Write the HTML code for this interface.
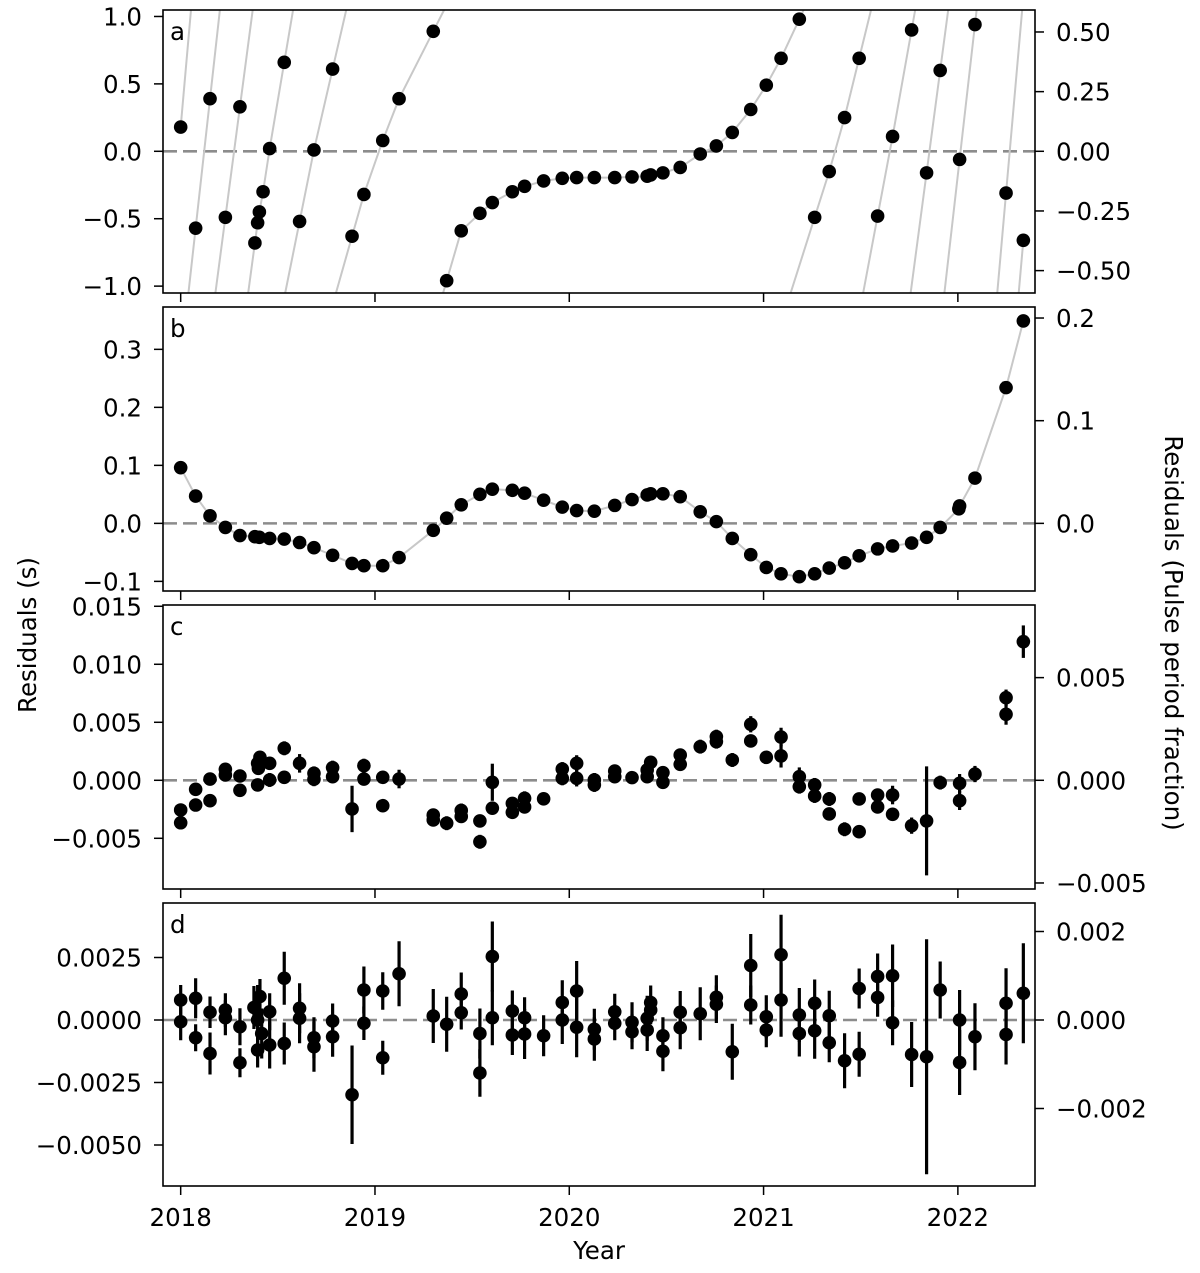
<!DOCTYPE html>
<html><head><meta charset="utf-8"><style>
html,body{margin:0;padding:0;background:#fff;}
svg text{font-family:"DejaVu Sans","Liberation Sans",sans-serif;fill:#000;}
</style></head><body>
<svg id="chart" xmlns="http://www.w3.org/2000/svg" width="1200" height="1268" viewBox="0 0 1200 1268"></svg>
<script>
// ---- data ----
const xTickYears = [2018, 2019, 2020, 2021, 2022];
const xTickLabels = ["2018", "2019", "2020", "2021", "2022"];

// panel a: phase-wrapped residuals
const aYears = [2018.000, 2018.077, 2018.151, 2018.230, 2018.305, 2018.382, 2018.396, 2018.405, 2018.424, 2018.458, 2018.533,
  2018.612, 2018.686, 2018.782, 2018.882, 2018.943, 2019.040, 2019.124, 2019.300,
  2019.369, 2019.444, 2019.540, 2019.604, 2019.707, 2019.770, 2019.868, 2019.964, 2020.038, 2020.129, 2020.234, 2020.323, 2020.401, 2020.419, 2020.482, 2020.571, 2020.674, 2020.757, 2020.839, 2020.934, 2021.014, 2021.090, 2021.184,
  2021.263, 2021.338, 2021.417, 2021.492, 2021.587, 2021.664, 2021.762, 2021.839, 2021.909, 2022.009, 2022.088, 2022.248, 2022.337];
const aResid = [0.18, -0.57, 0.39, -0.49, 0.33, -0.68, -0.53, -0.45, -0.30, 0.02, 0.66,
  -0.52, 0.01, 0.61, -0.63, -0.32, 0.08, 0.39, 0.89,
  -0.96, -0.59, -0.46, -0.38, -0.30, -0.26, -0.22, -0.20, -0.195, -0.195, -0.195, -0.19, -0.185, -0.175, -0.16, -0.12, -0.02, 0.04, 0.14, 0.31, 0.49, 0.69, 0.98,
  -0.49, -0.15, 0.25, 0.69, -0.48, 0.11, 0.90, -0.16, 0.60, -0.06, 0.94, -0.31, -0.66];
const aSegment = [0, 1, 1, 2, 2, 3, 3, 3, 3, 3, 3, 4, 4, 4, 5, 5, 5, 5, 5,
  6, 6, 6, 6, 6, 6, 6, 6, 6, 6, 6, 6, 6, 6, 6, 6, 6, 6, 6, 6, 6, 6, 6,
  7, 7, 7, 7, 8, 8, 8, 9, 9, 10, 10, 11, 12];

// panel b
const bYears = [2018.000, 2018.077, 2018.151, 2018.230, 2018.305, 2018.382, 2018.405, 2018.458, 2018.533, 2018.612, 2018.686, 2018.782, 2018.882, 2018.943, 2019.040, 2019.124,
  2019.300, 2019.369, 2019.444, 2019.540, 2019.604, 2019.707, 2019.770, 2019.868, 2019.964, 2020.038, 2020.129, 2020.234, 2020.323, 2020.401, 2020.419, 2020.482, 2020.571,
  2020.674, 2020.757, 2020.839, 2020.934, 2021.014, 2021.090, 2021.184, 2021.263, 2021.338, 2021.417, 2021.492, 2021.587, 2021.664, 2021.762, 2021.839, 2021.909, 2022.005, 2022.009, 2022.088, 2022.248, 2022.337];
const bResid = [0.096, 0.047, 0.013, -0.007, -0.021, -0.023, -0.024, -0.026, -0.027, -0.033, -0.042, -0.055, -0.069, -0.073, -0.073, -0.059,
  -0.012, 0.009, 0.032, 0.050, 0.059, 0.057, 0.052, 0.040, 0.028, 0.022, 0.021, 0.031, 0.041, 0.049, 0.051, 0.051, 0.046,
  0.020, 0.003, -0.026, -0.054, -0.076, -0.087, -0.092, -0.087, -0.077, -0.068, -0.056, -0.044, -0.039, -0.034, -0.024, -0.007, 0.025, 0.030, 0.078, 0.234, 0.349];

// panel c
const cYears = [2018.000, 2018.000, 2018.077, 2018.077, 2018.151, 2018.151, 2018.230, 2018.230, 2018.305, 2018.305, 2018.396, 2018.408, 2018.400, 2018.396, 2018.458, 2018.458, 2018.533, 2018.533,
  2018.612, 2018.686, 2018.686, 2018.782, 2018.782, 2018.882, 2018.943, 2018.943, 2019.040, 2019.040, 2019.124, 2019.300, 2019.300, 2019.369, 2019.444, 2019.444, 2019.540, 2019.540,
  2019.604, 2019.604, 2019.707, 2019.707, 2019.770, 2019.770, 2019.868, 2019.964, 2019.964, 2020.038, 2020.038, 2020.129, 2020.129, 2020.234, 2020.234, 2020.323, 2020.401, 2020.419, 2020.401,
  2020.482, 2020.482, 2020.571, 2020.571, 2020.674, 2020.757, 2020.757, 2020.839, 2020.934, 2020.934, 2021.014, 2021.090, 2021.090, 2021.184, 2021.184, 2021.263, 2021.263, 2021.338, 2021.338,
  2021.417, 2021.492, 2021.492, 2021.587, 2021.587, 2021.664, 2021.664, 2021.762, 2021.839, 2021.909, 2022.009, 2022.009, 2022.088, 2022.248, 2022.248, 2022.337];
const cResid = [-0.00256, -0.00366, -0.00078, -0.00213, 0.00011, -0.00176, 0.00095, 0.00046, 0.00037, -0.00086, 0.00146, 0.00198, 0.00103, -0.0004, 0.00003, 0.00146, 0.00276, 0.00026,
  0.00146, 0.0006, 0.00009, 0.00109, 0.00031, -0.00247, 0.00126, 0.00011, 0.00026, -0.00219, 0.00011, -0.003, -0.00342, -0.0037, -0.0026, -0.00312, -0.0035, -0.0053,
  -0.00017, -0.0024, -0.00199, -0.00276, -0.00155, -0.0023, -0.0016, 0.00097, 0.00017, 0.00146, 0.00017, 0.00003, -0.0004, 0.0008, 0.00031, 0.00023, 0.00089, 0.00155, 0.00031,
  0.00066, -0.00017, 0.00218, 0.00138, 0.0029, 0.00376, 0.00333, 0.00175, 0.00483, 0.00339, 0.00198, 0.00373, 0.0021, 0.00031, -0.00055, -0.0004, -0.00135, -0.00161, -0.0029,
  -0.00422, -0.00161, -0.00443, -0.00127, -0.0023, -0.00127, -0.00293, -0.00391, -0.0035, -0.0002, -0.00026, -0.00176, 0.00054, 0.00712, 0.00569, 0.01195];
const cErr = [0.0005, 0.0005, 0.0004, 0.0004, 0.0004, 0.0005, 0.0005, 0.0005, 0.0005, 0.0004, 0.0005, 0.0005, 0.0005, 0.0005, 0.0006, 0.0005, 0.0006, 0.0005,
  0.0008, 0.0006, 0.0006, 0.0006, 0.0005, 0.0020, 0.0006, 0.0004, 0.0005, 0.0004, 0.0008, 0.0005, 0.0005, 0.0006, 0.0006, 0.0004, 0.0005, 0.0006,
  0.0016, 0.0005, 0.0005, 0.0005, 0.0006, 0.0005, 0.0005, 0.0006, 0.0006, 0.0007, 0.0007, 0.0006, 0.0006, 0.0005, 0.0005, 0.0004, 0.0005, 0.0004, 0.0005,
  0.0005, 0.0005, 0.0005, 0.0005, 0.0006, 0.0006, 0.0006, 0.0006, 0.0007, 0.0005, 0.0005, 0.0008, 0.0010, 0.0008, 0.0006, 0.0006, 0.0006, 0.0006, 0.0004,
  0.0006, 0.0004, 0.0004, 0.0005, 0.0005, 0.0008, 0.0004, 0.0007, 0.0047, 0.0006, 0.0008, 0.0008, 0.0007, 0.0007, 0.0009, 0.0014];

// panel d
const dYears = [2018.000, 2018.000, 2018.077, 2018.077, 2018.151, 2018.151, 2018.230, 2018.230, 2018.305, 2018.305, 2018.377, 2018.396, 2018.408, 2018.396, 2018.417, 2018.458, 2018.458,
  2018.533, 2018.533, 2018.612, 2018.612, 2018.686, 2018.686, 2018.782, 2018.782, 2018.882, 2018.943, 2018.943, 2019.040, 2019.040, 2019.124,
  2019.300, 2019.369, 2019.444, 2019.444, 2019.540, 2019.540, 2019.604, 2019.604, 2019.707, 2019.707, 2019.770, 2019.770, 2019.868, 2019.964, 2019.964, 2020.038, 2020.038, 2020.129, 2020.129,
  2020.234, 2020.234, 2020.323, 2020.323, 2020.401, 2020.401, 2020.419, 2020.419, 2020.482, 2020.482, 2020.571, 2020.571, 2020.674, 2020.757, 2020.757, 2020.839, 2020.934, 2020.934,
  2021.014, 2021.014, 2021.090, 2021.090, 2021.184, 2021.184, 2021.263, 2021.263, 2021.338, 2021.338, 2021.417, 2021.492, 2021.492, 2021.587, 2021.587, 2021.664, 2021.664,
  2021.762, 2021.839, 2021.909, 2022.009, 2022.009, 2022.088, 2022.248, 2022.248, 2022.337];
const dResid = [0.0008, -0.00007, 0.00087, -0.00071, 0.00031, -0.00134, 0.0004, 0.00009, -0.00027, -0.00171, 0.0005, 0.0, 0.00094, -0.0012, -0.00054, 0.00033, -0.001,
  0.00167, -0.00094, 0.00047, 0.00007, -0.00071, -0.00107, -0.00004, -0.00067, -0.00299, 0.0012, -0.00013, 0.00116, -0.00151, 0.00185,
  0.00016, -0.00017, 0.00104, 0.00029, -0.00054, -0.00212, 0.00254, 0.00009, 0.00036, -0.0006, 0.00009, -0.00056, -0.00063, 0.0007, 0.0, 0.00116, -0.00029, -0.00037, -0.00076,
  0.00033, -0.00013, -0.00009, -0.00047, 0.00007, -0.0004, 0.0007, 0.0004, -0.00063, -0.00125, 0.00031, -0.00031, 0.00025, 0.00091, 0.00063, -0.00127, 0.00218, 0.0006,
  0.00013, -0.0004, 0.00261, 0.0008, 0.0002, -0.00054, 0.00067, -0.00043, 0.00017, -0.00091, -0.00163, 0.00126, -0.00137, 0.00174, 0.0009, 0.00177, -0.00011,
  -0.00138, -0.00147, 0.0012, 0.0, -0.0017, -0.00067, 0.00067, -0.00058, 0.00107];
const dErr = [0.0006, 0.00074, 0.0008, 0.00054, 0.00063, 0.00084, 0.00067, 0.0007, 0.00074, 0.00058, 0.00086, 0.0014, 0.0007, 0.0007, 0.001, 0.00074, 0.00094,
  0.00106, 0.00084, 0.001, 0.001, 0.00082, 0.001, 0.0007, 0.0008, 0.00197, 0.00094, 0.00067, 0.00075, 0.00068, 0.0013,
  0.00108, 0.0011, 0.00086, 0.00067, 0.001, 0.00095, 0.0014, 0.0011, 0.00082, 0.0008, 0.00082, 0.001, 0.00082, 0.00089, 0.00096, 0.0012, 0.0012, 0.00082, 0.00087,
  0.00072, 0.00068, 0.0008, 0.0007, 0.0009, 0.00084, 0.00068, 0.00057, 0.00074, 0.0008, 0.00085, 0.00086, 0.00106, 0.00088, 0.00075, 0.00112, 0.00126, 0.00078,
  0.00086, 0.00069, 0.0016, 0.00147, 0.00108, 0.00092, 0.00095, 0.00112, 0.001, 0.00078, 0.0011, 0.0008, 0.0009, 0.00092, 0.00077, 0.00125, 0.0009,
  0.0013, 0.0047, 0.00114, 0.0012, 0.0013, 0.00134, 0.0014, 0.0012, 0.002];

// axis ticks
const aLeftTicks = [-1.0, -0.5, 0.0, 0.5, 1.0];
const aLeftLabels = ["\u22121.0", "\u22120.5", "0.0", "0.5", "1.0"];
const aRightTicks = [-0.50, -0.25, 0.0, 0.25, 0.50];
const aRightLabels = ["\u22120.50", "\u22120.25", "0.00", "0.25", "0.50"];
const bLeftTicks = [-0.1, 0.0, 0.1, 0.2, 0.3];
const bLeftLabels = ["\u22120.1", "0.0", "0.1", "0.2", "0.3"];
const bRightTicks = [0.0, 0.1, 0.2];
const bRightLabels = ["0.0", "0.1", "0.2"];
const cLeftTicks = [-0.005, 0.0, 0.005, 0.010, 0.015];
const cLeftLabels = ["\u22120.005", "0.000", "0.005", "0.010", "0.015"];
const cRightTicks = [-0.005, 0.0, 0.005];
const cRightLabels = ["\u22120.005", "0.000", "0.005"];
const dLeftTicks = [-0.005, -0.0025, 0.0, 0.0025];
const dLeftLabels = ["\u22120.0050", "\u22120.0025", "0.0000", "0.0025"];
const dRightTicks = [-0.002, 0.0, 0.002];
const dRightLabels = ["\u22120.002", "0.000", "0.002"];

const PERIOD = 1.77;

// ---- rendering ----
const NS = "http://www.w3.org/2000/svg";
const svg = document.getElementById('chart');
const X0 = 163, X1 = 1035;
const xMin = 2017.909, xMax = 2022.397;
const FS = 24.5;
function xScale(yr) { return X0 + (yr - xMin) / (xMax - xMin) * (X1 - X0); }
function mk(tag, parent, attrs) {
  const e = document.createElementNS(NS, tag);
  for (const k in attrs) e.setAttribute(k, attrs[k]);
  parent.appendChild(e);
  return e;
}

function makePanel(id, top, bottom, yMin, yMax, leftTicks, leftLabels, rightTicks, rightLabels, letter) {
  const g = mk('g', svg, {});
  
  
  const y = v => top + (yMax - v) / (yMax - yMin) * (bottom - top);
  const clipId = 'clip-' + id;
  const cp = mk('clipPath', g, {id: clipId});
  mk('rect', cp, {x: X0, y: top, width: X1 - X0, height: bottom - top});
  const plot = mk('g', g, {'clip-path': 'url(#' + clipId + ')'});
  const zl = mk('line', plot, {x1: X0, x2: X1, y1: y(0), y2: y(0), stroke: '#8c8c8c', 'stroke-width': 2.6, 'stroke-dasharray': '14,6'});
  
  
  const fr = mk('rect', g, {x: X0, y: top, width: X1 - X0, height: bottom - top, fill: 'none', stroke: '#000', 'stroke-width': 1.6});
  
  
  xTickYears.forEach((yr, i) => {
    const t = mk('line', g, {x1: xScale(yr), x2: xScale(yr), y1: bottom, y2: bottom + 9, stroke: '#000', 'stroke-width': 1.5});
    
    
  });
  leftTicks.forEach((v, i) => {
    mk('line', g, {x1: X0 - 9, x2: X0, y1: y(v), y2: y(v), stroke: '#000', 'stroke-width': 1.5});
    const tx = mk('text', g, {x: X0 - 21, y: y(v) + 9, 'text-anchor': 'end', 'font-size': FS});
    tx.textContent = leftLabels[i];
    
    
  });
  rightTicks.forEach((v, i) => {
    const yy = y(v * PERIOD);
    mk('line', g, {x1: X1, x2: X1 + 9, y1: yy, y2: yy, stroke: '#000', 'stroke-width': 1.5});
    const tx = mk('text', g, {x: X1 + 21, y: yy + 9, 'text-anchor': 'start', 'font-size': FS});
    tx.textContent = rightLabels[i];
    
    
  });
  const lt = mk('text', g, {x: 170, y: top + 30, 'font-size': FS});
  lt.textContent = letter;
  
  
  return {plot, y, top, bottom};
}

function dot(parent, cx, cy, name) {
  const c = mk('circle', parent, {cx: cx, cy: cy, r: 6.8, fill: '#000'});
  
  
}

// Panel a
const pa = makePanel('a', 10, 293, -1.051, 1.048, aLeftTicks, aLeftLabels, aRightTicks, aRightLabels, 'a');
(function () {
  const nSeg = Math.max(...aSegment) + 1;
  for (let s = 0; s < nSeg; s++) {
    const pts = [];
    aYears.forEach((yr, i) => { if (aSegment[i] === s) pts.push([xScale(yr), pa.y(aResid[i])]); });
    const line = pts.slice();
    const defSlope = 0.088;
    if (s > 0) {
      let sl = defSlope;
      if (pts.length > 1) sl = (pts[1][0] - pts[0][0]) / (pts[0][1] - pts[1][1]);
      line.unshift([pts[0][0] - sl * (pa.bottom - pts[0][1]), pa.bottom]);
    }
    if (s < nSeg - 1) {
      let sl = defSlope;
      const n = pts.length;
      if (n > 1) sl = (pts[n - 1][0] - pts[n - 2][0]) / (pts[n - 2][1] - pts[n - 1][1]);
      line.push([pts[n - 1][0] + sl * (pts[n - 1][1] - pa.top), pa.top]);
    }
    const pl = mk('polyline', pa.plot, {points: line.map(p => p.join(',')).join(' '), fill: 'none', stroke: '#c8c8c8', 'stroke-width': 2});
    
    
  }
  aYears.forEach((yr, i) => dot(pa.plot, xScale(yr), pa.y(aResid[i]), 'residual-point-a'));
})();

// Panel b
const pb = makePanel('b', 307, 591, -0.1166, 0.373, bLeftTicks, bLeftLabels, bRightTicks, bRightLabels, 'b');
(function () {
  const pl = mk('polyline', pb.plot, {points: bYears.map((yr, i) => xScale(yr) + ',' + pb.y(bResid[i])).join(' '), fill: 'none', stroke: '#c8c8c8', 'stroke-width': 2});
  
  
  bYears.forEach((yr, i) => dot(pb.plot, xScale(yr), pb.y(bResid[i]), 'residual-point-b'));
})();

function errPanel(p, years, vals, errs, id) {
  years.forEach((yr, i) => {
    const x = xScale(yr);
    const e = mk('line', p.plot, {x1: x, x2: x, y1: p.y(vals[i] + errs[i]), y2: p.y(vals[i] - errs[i]), stroke: '#000', 'stroke-width': 3.2});
    
    
  });
  years.forEach((yr, i) => dot(p.plot, xScale(yr), p.y(vals[i]), 'residual-point-' + id));
}
const pc = makePanel('c', 605, 889, -0.00937, 0.01511, cLeftTicks, cLeftLabels, cRightTicks, cRightLabels, 'c');
errPanel(pc, cYears, cResid, cErr, 'c');
const pd = makePanel('d', 903, 1186, -0.00664, 0.00468, dLeftTicks, dLeftLabels, dRightTicks, dRightLabels, 'd');
errPanel(pd, dYears, dResid, dErr, 'd');

xTickYears.forEach((yr, i) => {
  const t = mk('text', svg, {x: xScale(yr), y: 1226, 'text-anchor': 'middle', 'font-size': FS});
  t.textContent = xTickLabels[i];
  
  
});

const xl = mk('text', svg, {x: 599, y: 1259, 'text-anchor': 'middle', 'font-size': FS});
xl.textContent = 'Year';


const yl = mk('text', svg, {transform: 'translate(36,635) rotate(-90)', 'text-anchor': 'middle', 'font-size': FS});
yl.textContent = 'Residuals (s)';


const yr2 = mk('text', svg, {transform: 'translate(1165,633) rotate(90)', 'text-anchor': 'middle', 'font-size': FS});
yr2.textContent = 'Residuals (Pulse period fraction)';


</script>
</body></html>
